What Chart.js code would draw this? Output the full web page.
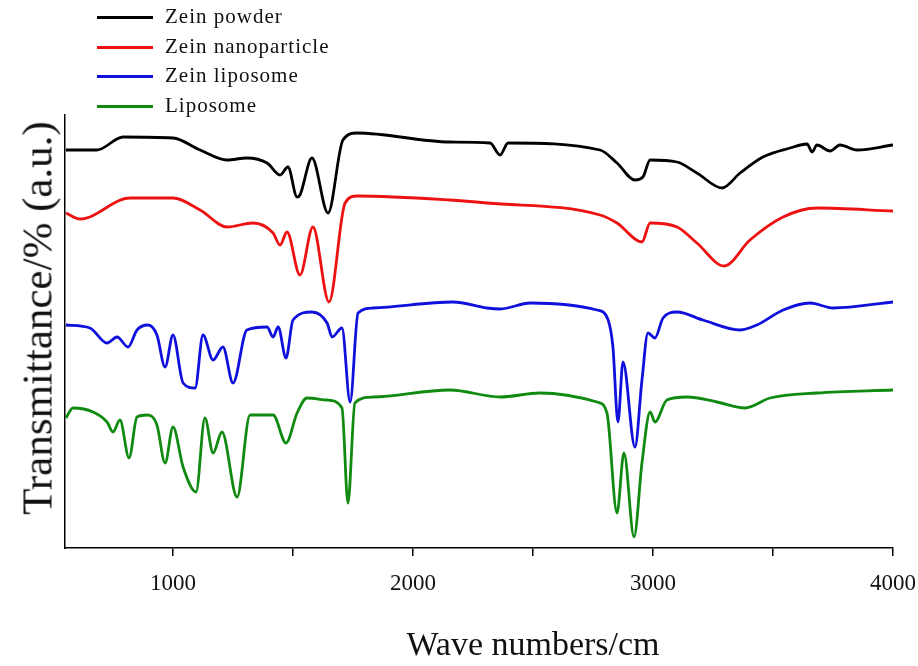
<!DOCTYPE html>
<html>
<head>
    <title>FTIR spectra</title>
    <script src="https://cdn.jsdelivr.net/npm/chart.js"></script>
    <style>
        body { margin: 0; background: #fff; }
        #wrap { position: relative; width: 918px; height: 666px; font-family: "Liberation Serif", serif; color: #111; }
        #legend { position: absolute; left: 0; top: 0; font-size: 21px; letter-spacing: 1px; }
        .item { position: absolute; left: 97px; height: 30px; white-space: nowrap; }
        .item span.sw { position: absolute; left: 0; top: 14px; width: 56px; height: 3px; }
        .item span.tx { position: absolute; left: 68px; top: 2px; }
        #xtitle { position: absolute; left: 533px; top: 644px; transform: translate(-50%, -50%); font-size: 34px; white-space: nowrap; }
        #ytitle { position: absolute; left: 37px; top: 318px; transform: translate(-50%, -50%) rotate(-90deg); font-size: 43px; white-space: nowrap; }
    </style>
</head>
<body>
    <div id="wrap">
        <canvas id="grafico" width="918" height="666"></canvas>
        <div id="legend"></div>
        <div id="xtitle">Wave numbers/cm</div>
        <div id="ytitle">Transmittance/% (a.u.)</div>
    </div>

    <script>
        // series names and colours
        const seriesNames = ['Zein powder', 'Zein nanoparticle', 'Zein liposome', 'Liposome'];
        const seriesColors = ['#000000', '#ee1111', '#1010dd', '#108a10'];

        // x axis ticks (wavenumber, cm-1)
        const tickValues = [1000, 1500, 2000, 2500, 3000, 3500, 4000];
        const tickLabels = ['1000', '', '2000', '', '3000', '', '4000'];

        // Zein powder
        const wnPowder = [554, 683, 792, 1000, 1113, 1225, 1308, 1392, 1446, 1479, 1517, 1529, 1579, 1646, 1708, 1767, 2154, 2321, 2363, 2396, 2779, 2850, 2925, 2958, 2988, 3100, 3183, 3288, 3363, 3458, 3571, 3642, 3663, 3683, 3738, 3779, 3850, 4000];
        const tPowder = [398, 398, 411, 410, 398, 388, 390, 385, 373, 381, 351, 353, 390, 335, 408, 415, 406, 405, 393, 405, 398, 385, 368, 371, 388, 386, 375, 360, 375, 391, 400, 404, 396, 403, 397, 403, 398, 403];

        // Zein nanoparticle
        const wnNano = [554, 613, 821, 1000, 1113, 1225, 1333, 1417, 1446, 1475, 1529, 1583, 1650, 1717, 1767, 2154, 2308, 2779, 2850, 2954, 2988, 3100, 3183, 3296, 3404, 3542, 3683, 4000];
        const tNano = [335, 329, 350, 350, 338, 321, 325, 315, 303, 316, 273, 321, 246, 345, 352, 348, 345, 333, 325, 306, 325, 321, 305, 282, 308, 331, 340, 337];

        // Zein liposome
        const wnZlipo = [554, 654, 725, 767, 813, 850, 896, 933, 967, 1000, 1042, 1092, 1125, 1167, 1208, 1250, 1308, 1392, 1417, 1438, 1471, 1500, 1579, 1642, 1663, 1704, 1738, 1771, 1833, 2167, 2308, 2363, 2488, 2767, 2813, 2833, 2854, 2875, 2925, 2954, 2979, 3008, 3042, 3100, 3208, 3363, 3433, 3542, 3654, 3750, 4000];
        const tZlipo = [223, 220, 205, 211, 201, 218, 223, 213, 181, 213, 165, 160, 213, 188, 201, 165, 218, 221, 211, 221, 190, 228, 236, 225, 211, 220, 146, 235, 240, 246, 240, 239, 245, 238, 228, 201, 126, 186, 101, 168, 215, 210, 230, 236, 228, 218, 223, 238, 245, 240, 246];

        // Liposome
        const wnLipo = [554, 583, 667, 725, 750, 779, 817, 850, 892, 933, 967, 1000, 1042, 1096, 1133, 1167, 1204, 1267, 1321, 1417, 1471, 1517, 1558, 1642, 1704, 1729, 1758, 1833, 2154, 2363, 2529, 2767, 2808, 2850, 2879, 2921, 2954, 2988, 3008, 3058, 3142, 3267, 3383, 3488, 3683, 4000];
        const tLipo = [130, 140, 136, 126, 116, 128, 90, 131, 133, 123, 85, 121, 81, 56, 130, 95, 116, 51, 133, 133, 105, 135, 150, 148, 140, 45, 145, 151, 158, 151, 155, 146, 135, 35, 95, 11, 85, 136, 126, 148, 151, 146, 140, 150, 155, 158];

        const allWn = [wnPowder, wnNano, wnZlipo, wnLipo];
        const allT = [tPowder, tNano, tZlipo, tLipo];

        const datasets = seriesNames.map((name, i) => ({
            label: name,
            data: allWn[i].map((x, j) => ({ x: x, y: allT[i][j] })),
            borderColor: seriesColors[i],
            borderWidth: 2.8,
            pointRadius: 0,
            fill: false,
            cubicInterpolationMode: 'monotone'
        }));

        // HTML legend built from the datasets
        const legend = document.getElementById('legend');
        datasets.forEach((ds, i) => {
            const div = document.createElement('div');
            div.className = 'item';
            div.style.top = (2 + i * 29.7) + 'px';
            div.innerHTML = '<span class="sw" style="background:' + ds.borderColor + '"></span><span class="tx">' + ds.label + '</span>';
            legend.appendChild(div);
        });

        const ctx = document.getElementById('grafico').getContext('2d');
        new Chart(ctx, {
            type: 'line',
            data: { datasets: datasets },
            options: {
                responsive: false,
                animation: false,
                layout: { padding: { left: 65, right: 25, top: 115, bottom: 68 } },
                plugins: { legend: { display: false }, tooltip: { enabled: false } },
                scales: {
                    x: {
                        type: 'linear',
                        min: 550,
                        max: 4000,
                        afterBuildTicks: (scale) => {
                            scale.ticks = tickValues.map(v => ({ value: v }));
                        },
                        afterFit: (scale) => {
                            // keep the plot area fixed: no extra room for the end labels
                            scale.paddingLeft = 0;
                            scale.paddingRight = 0;
                            scale.height = 50;
                        },
                        ticks: {
                            autoSkip: false,
                            maxRotation: 0,
                            padding: 14,
                            color: '#111',
                            font: { family: 'Liberation Serif', size: 23 },
                            callback: (v) => tickLabels[tickValues.indexOf(v)]
                        },
                        grid: { drawOnChartArea: false, drawTicks: true, tickLength: 8, color: '#000', lineWidth: 1.5 },
                        border: { display: true, color: '#000', width: 1.5 }
                    },
                    y: {
                        min: 0,
                        max: 433,
                        ticks: { display: false },
                        grid: { display: false, drawTicks: false },
                        border: { display: true, color: '#000', width: 1.5 }
                    }
                }
            }
        });
    </script>
</body>
</html>
